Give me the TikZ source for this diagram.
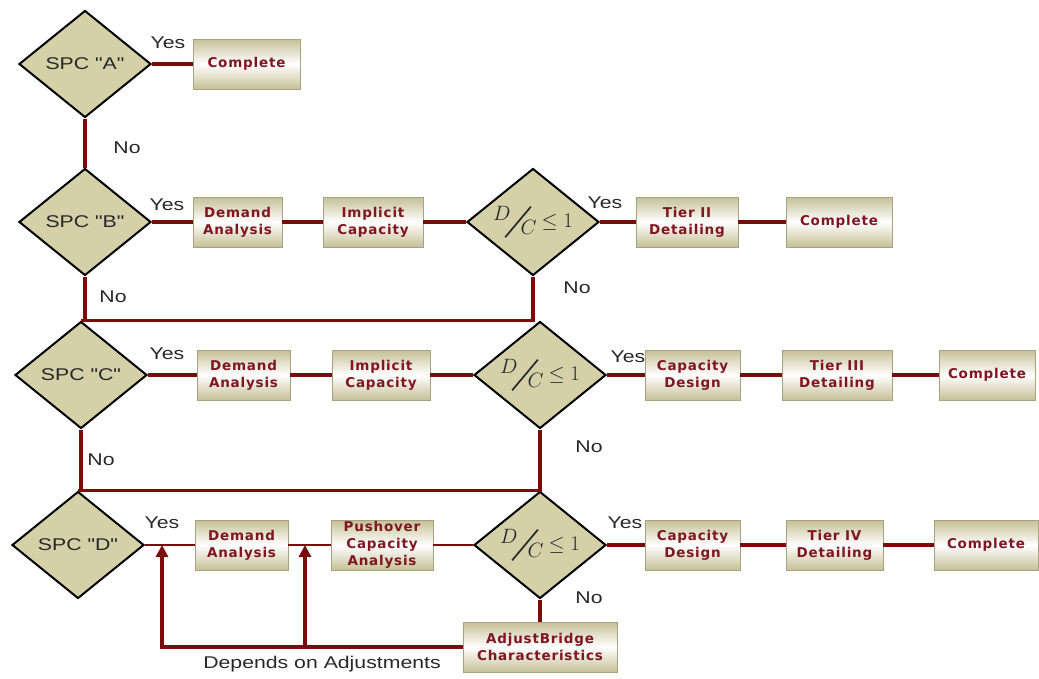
\documentclass[tikz,border=0pt]{standalone}
\usepackage{fontspec}
\usepackage{tikz}
\usetikzlibrary{shapes.geometric}
\usetikzlibrary{arrows.meta}
\usepackage{xcolor}
\setmainfont{Liberation Sans}
\newfontfamily\lblfont[FakeStretch=1.25]{Liberation Sans}
\newfontfamily\stepfont[LetterSpace=6]{DejaVu Sans}
\definecolor{diafill}{RGB}{212,208,168}
\definecolor{boxtan}{RGB}{196,192,150}
\definecolor{linered}{RGB}{122,12,12}
\definecolor{steptext}{RGB}{128,22,34}
\definecolor{lbltext}{RGB}{40,40,40}
\newcommand{\dcratio}{{\fontsize{20}{22}\selectfont\raisebox{7pt}{$D$}\kern-6pt%
  \raisebox{-10pt}{\rotatebox{50}{\rule{40pt}{1.7pt}}}\kern-11pt\raisebox{-7pt}{$C$}\kern5pt$\leq 1$}}

\begin{document}
\begin{tikzpicture}[x=1pt,y=1pt,yscale=-1,xscale=1,
  decision/.style={diamond,draw=black,line width=2pt,fill=diafill,inner sep=0pt,aspect=1.25,
    minimum width=132pt,minimum height=107pt,font=\lblfont\fontsize{17}{19}\selectfont,text=lbltext},
  stepbox/.style={rectangle,draw=boxtan!85!black,line width=0.4pt,top color=boxtan,bottom color=boxtan,
    middle color=white,minimum height=50pt,minimum width=#1,inner sep=0pt,align=center,
    font=\stepfont\bfseries\fontsize{13.5}{17}\selectfont,text=steptext},
  lbl/.style={font=\lblfont\fontsize{17}{19}\selectfont,text=lbltext,inner sep=0pt},
  link/.style={draw=linered,line width=3.4pt},
  thinlink/.style={draw=linered,line width=2.4pt},
  back/.style={draw=linered,line width=4pt,-{Triangle[length=12pt,width=12pt]}}]
\useasboundingbox (0,0) rectangle (1039,678);

% Decisions
\node [decision] (spcA) at (85,64) {SPC "A"};
\node [decision] (spcB) at (85,222) {SPC "B"};
\node [decision] (spcC) at (81,375) {SPC "C"};
\node [decision] (spcD) at (78,545) {SPC "D"};
\node [decision] (dcB) at (533,222) {\dcratio};
\node [decision] (dcC) at (540,375) {\dcratio};
\node [decision] (dcD) at (540,545) {\dcratio};

% Steps
\node [stepbox=107pt] (doneA) at (246.5,64) {Complete};
\node [stepbox=89pt] (demandB) at (237.5,222) {Demand\\Analysis};
\node [stepbox=100pt] (implicitB) at (373,222) {Implicit\\Capacity};
\node [stepbox=102pt] (tierB) at (687,222) {Tier II\\Detailing};
\node [stepbox=106pt] (doneB) at (839,222) {Complete};
\node [stepbox=93pt] (demandC) at (243.5,375) {Demand\\Analysis};
\node [stepbox=98pt] (implicitC) at (381,375) {Implicit\\Capacity};
\node [stepbox=95pt] (designC) at (692.5,375) {Capacity\\Design};
\node [stepbox=110pt] (tierC) at (837,375) {Tier III\\Detailing};
\node [stepbox=96pt] (doneC) at (987,375) {Complete};
\node [stepbox=93pt] (demandD) at (241.5,545) {Demand\\Analysis};
\node [stepbox=102pt] (pushD) at (382,545) {Pushover\\Capacity\\Analysis};
\node [stepbox=95pt] (designD) at (692.5,545) {Capacity\\Design};
\node [stepbox=97pt] (tierD) at (834.5,545) {Tier IV\\Detailing};
\node [stepbox=104pt] (doneD) at (986,545) {Complete};
\node [stepbox=154pt] (adjustD) at (540,647) {AdjustBridge\\Characteristics};

% Connectors
\draw [link] (spcA.east) -- (doneA.west);
\draw [link] (spcA.south) -- (spcB.north);
\draw [link] (spcB.east) -- (demandB.west);
\draw [link] (demandB.east) -- (implicitB.west);
\draw [link] (implicitB.east) -- (dcB.west);
\draw [link] (dcB.east) -- (tierB.west);
\draw [link] (tierB.east) -- (doneB.west);
\draw [link] (spcB.south) -- (spcB.south |- spcC.north);
\draw [link] (dcB.south) |- (spcC.north);
\draw [link] (spcC.east) -- (demandC.west);
\draw [link] (demandC.east) -- (implicitC.west);
\draw [link] (implicitC.east) -- (dcC.west);
\draw [link] (dcC.east) -- (designC.west);
\draw [link] (designC.east) -- (tierC.west);
\draw [link] (tierC.east) -- (doneC.west);
\draw [link] (spcC.south) -- (spcC.south |- spcD.north);
\draw [link] (dcC.south) |- (spcD.north);
\draw [thinlink] (spcD.east) -- (demandD.west);
\draw [thinlink] (demandD.east) -- (pushD.west);
\draw [thinlink] (pushD.east) -- (dcD.west);
\draw [link] (dcD.east) -- (designD.west);
\draw [link] (designD.east) -- (tierD.west);
\draw [link] (tierD.east) -- (doneD.west);
\draw [link] (dcD.south) -- (adjustD.north);

% Feedback
\coordinate (toSpc) at (162,545);
\coordinate (toPush) at (305,545);
\draw [back] (adjustD.west) -| (toSpc);
\draw [back] (toPush |- adjustD.west) -- (toPush);

% Text Node
\node [lbl] (yesA) at (168,43) {Yes};
\node [lbl] (noA) at (127,148) {No};
\node [lbl] (yesB) at (167,205) {Yes};
\node [lbl] (noB) at (113,297) {No};
\node [lbl] (yesDcB) at (605,203) {Yes};
\node [lbl] (noDcB) at (577,288) {No};
\node [lbl] (yesC) at (167,354) {Yes};
\node [lbl] (noC) at (101,460) {No};
\node [lbl] (yesDcC) at (628,357) {Yes};
\node [lbl] (noDcC) at (589,447) {No};
\node [lbl] (yesD) at (162,523) {Yes};
\node [lbl] (yesDcD) at (625,523) {Yes};
\node [lbl] (noDcD) at (589,598) {No};
\node [lbl] (depends) at (322,664) {Depends on Adjustments};

\end{tikzpicture}
\end{document}
